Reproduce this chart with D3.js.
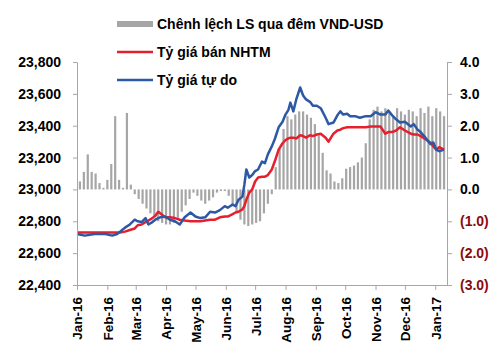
<!DOCTYPE html>
<html lang="vi">
<head>
<meta charset="utf-8">
<title>Tỷ giá VND-USD 2016</title>
<script src="https://cdnjs.cloudflare.com/ajax/libs/d3/7.8.5/d3.min.js"></script>
<style>
  body { margin: 0; background: #fff; }
  svg text { font-family: "Liberation Sans", Arial, sans-serif; font-weight: bold; }
</style>
</head>
<body>
<div id="chart"></div>
<script>
// chênh lệch lãi suất qua đêm VND-USD (trục phải), mỗi 4 ngày
const barDates = [
  "2016-01-04","2016-01-08","2016-01-12","2016-01-16","2016-01-20","2016-01-24","2016-01-28",
  "2016-02-01","2016-02-05","2016-02-09","2016-02-13","2016-02-17","2016-02-21","2016-02-25","2016-02-29",
  "2016-03-04","2016-03-08","2016-03-12","2016-03-16","2016-03-20","2016-03-24","2016-03-28",
  "2016-04-01","2016-04-05","2016-04-09","2016-04-13","2016-04-17","2016-04-21","2016-04-25","2016-04-29",
  "2016-05-03","2016-05-07","2016-05-11","2016-05-15","2016-05-19","2016-05-23","2016-05-27","2016-05-31",
  "2016-06-04","2016-06-08","2016-06-12","2016-06-16","2016-06-20","2016-06-24","2016-06-28",
  "2016-07-02","2016-07-06","2016-07-10","2016-07-14","2016-07-18","2016-07-22","2016-07-26","2016-07-30",
  "2016-08-03","2016-08-07","2016-08-11","2016-08-15","2016-08-19","2016-08-23","2016-08-27","2016-08-31",
  "2016-09-04","2016-09-08","2016-09-12","2016-09-16","2016-09-20","2016-09-24","2016-09-28",
  "2016-10-02","2016-10-06","2016-10-10","2016-10-14","2016-10-18","2016-10-22","2016-10-26","2016-10-30",
  "2016-11-03","2016-11-07","2016-11-11","2016-11-15","2016-11-19","2016-11-23","2016-11-27",
  "2016-12-01","2016-12-05","2016-12-09","2016-12-13","2016-12-17","2016-12-21","2016-12-25","2016-12-29",
  "2017-01-02","2017-01-06","2017-01-10"
];
const spread = [
  0.25,0.55,1.1,0.55,0.5,0.2,0.05,
  0.3,0.8,2.3,0.3,0.05,2.4,0.15,-0.15,
  -0.3,-0.45,-0.6,-0.75,-0.85,-1.0,-1.05,
  -1.1,-1.1,-1.05,-0.9,-0.7,-0.5,-0.3,-0.1,
  -0.2,-0.35,-0.45,-0.35,-0.25,-0.1,-0.05,-0.05,
  -0.2,-0.5,-0.7,-0.95,-1.1,-1.15,-1.1,
  -1.05,-1.0,-0.75,-0.45,-0.15,0.7,1.3,1.9,
  2.3,2.2,2.35,2.45,2.45,2.35,2.25,2.05,
  1.7,1.15,0.6,0.5,0.25,0.2,0.35,
  0.65,0.7,0.75,0.85,1.0,1.45,2.2,2.5,
  2.6,2.45,2.55,2.45,2.3,2.55,2.45,
  2.35,2.5,2.45,2.3,2.55,2.4,2.6,2.3,
  2.55,2.45,2.3
];

// tỷ giá (trục trái)
const rateDates = [
  "2016-01-01","2016-01-09","2016-01-19","2016-01-30","2016-02-06","2016-02-11","2016-02-14","2016-02-19",
  "2016-02-24","2016-02-29","2016-03-03","2016-03-07","2016-03-11","2016-03-14","2016-03-18","2016-03-21",
  "2016-03-24","2016-03-26","2016-03-31","2016-04-05","2016-04-10","2016-04-15","2016-04-20","2016-04-26",
  "2016-05-01","2016-05-06","2016-05-11","2016-05-16","2016-05-21","2016-05-26","2016-05-31","2016-06-03",
  "2016-06-08","2016-06-11","2016-06-14","2016-06-18","2016-06-20","2016-06-22","2016-06-25","2016-06-28",
  "2016-07-01","2016-07-04","2016-07-08","2016-07-11","2016-07-14","2016-07-18","2016-07-21","2016-07-25",
  "2016-07-29","2016-08-01","2016-08-04","2016-08-06","2016-08-09","2016-08-12","2016-08-16","2016-08-19",
  "2016-08-22","2016-08-26","2016-08-29","2016-09-02","2016-09-06","2016-09-11","2016-09-14","2016-09-19",
  "2016-09-23","2016-09-26","2016-09-29","2016-10-03","2016-10-06","2016-10-11","2016-10-16","2016-10-22",
  "2016-10-27","2016-11-01","2016-11-06","2016-11-11","2016-11-14","2016-11-18","2016-11-22","2016-11-26",
  "2016-12-01","2016-12-07","2016-12-10","2016-12-14","2016-12-17","2016-12-22","2016-12-27","2016-12-30",
  "2017-01-02","2017-01-05","2017-01-10"
];
const rateBank = [
  22730,22730,22730,22730,22730,22730,22730,22735,
  22745,22755,22775,22780,22795,22805,22820,22835,
  22860,22850,22825,22825,22820,22810,22805,22800,
  22800,22800,22805,22810,22810,22825,22830,22830,
  22845,22855,22860,22875,22895,22935,22980,23000,
  23050,23075,23080,23080,23090,23125,23175,23250,
  23290,23310,23320,23325,23325,23320,23340,23335,
  23325,23340,23335,23345,23350,23325,23300,23350,
  23370,23375,23385,23390,23390,23390,23390,23390,
  23395,23395,23395,23350,23360,23360,23370,23390,
  23370,23350,23345,23345,23335,23315,23295,23270,
  23250,23265,23250
];
const rateFree = [
  22720,22710,22720,22720,22710,22720,22735,22760,
  22780,22810,22800,22795,22820,22780,22795,22810,
  22820,22825,22830,22810,22800,22780,22825,22855,
  22830,22820,22825,22860,22855,22870,22895,22885,
  22905,22895,22935,22955,23030,23125,23075,23090,
  23115,23125,23175,23165,23220,23270,23315,23390,
  23425,23470,23500,23545,23490,23565,23640,23590,
  23565,23550,23525,23525,23510,23450,23410,23420,
  23465,23490,23470,23475,23460,23460,23450,23460,
  23460,23485,23470,23470,23495,23465,23440,23420,
  23425,23395,23410,23375,23360,23325,23285,23295,
  23250,23240,23250
];

const leftTicks = [22400, 22600, 22800, 23000, 23200, 23400, 23600, 23800];
const rightTicks = [-3, -2, -1, 0, 1, 2, 3, 4];
const monthTicks = ["2016-01-01","2016-02-01","2016-03-01","2016-04-01","2016-05-01","2016-06-01",
  "2016-07-01","2016-08-01","2016-09-01","2016-10-01","2016-11-01","2016-12-01","2017-01-01"];

const legendLabels = ["Chênh lệch LS qua đêm VND-USD", "Tỷ giá bán NHTM", "Tỷ giá tự do"];
const barColor = "#a6a6a6", bankColor = "#e5202e", freeColor = "#2d58a4", axisColor = "#a6a6a6";

const W = 500, H = 361;
const parse = d3.timeParse("%Y-%m-%d");

const svg = d3.select("#chart").append("svg")
  .attr("width", W).attr("height", H);

const x = d3.scaleTime()
  .domain([parse("2016-01-01"), parse("2017-01-13")])
  .range([77, 447]);
const yL = d3.scaleLinear().domain([22400, 23800]).range([285, 62]);
const yR = d3.scaleLinear().domain([-3, 4]).range([285, 62]);

// bars
const bars = barDates.map((d, i) => ({ date: parse(d), v: spread[i] }));
svg.append("g").selectAll("rect")
  .data(bars).enter().append("rect")
  .attr("x", d => x(d.date) - 1.1)
  .attr("width", 2.2)
  .attr("y", d => yR(Math.max(0, d.v)))
  .attr("height", d => Math.abs(yR(d.v) - yR(0)))
  .attr("fill", barColor);

// lines
const line = d3.line().x(d => x(d.date)).y(d => yL(d.v));
const bank = rateDates.map((d, i) => ({ date: parse(d), v: rateBank[i] }));
const free = rateDates.map((d, i) => ({ date: parse(d), v: rateFree[i] }));

svg.append("path").datum(bank)
  .attr("d", line).attr("fill", "none")
  .attr("stroke", bankColor).attr("stroke-width", 2.5)
  .attr("stroke-linejoin", "round");
svg.append("path").datum(free)
  .attr("d", line).attr("fill", "none")
  .attr("stroke", freeColor).attr("stroke-width", 2.5)
  .attr("stroke-linejoin", "round");

// axes
function styleAxis(g) {
  g.attr("font-family", null).attr("font-size", null);
  g.select(".domain").attr("stroke", axisColor);
  g.selectAll(".tick line").attr("stroke", axisColor);
  g.selectAll(".tick text").attr("fill", "#000").style("font-size", "14px");
}

svg.append("g")
  .attr("transform", "translate(77,0)")
  .call(d3.axisLeft(yL).tickValues(leftTicks).tickSize(4).tickSizeOuter(0)
    .tickPadding(12).tickFormat(d3.format(",")))
  .call(styleAxis);

svg.append("g")
  .attr("transform", "translate(447,0)")
  .call(d3.axisRight(yR).tickValues(rightTicks).tickSize(5).tickSizeOuter(0)
    .tickPadding(8).tickFormat(d => d < 0 ? "(" + Math.abs(d).toFixed(1) + ")" : d.toFixed(1)))
  .call(styleAxis)
  .selectAll(".tick text")
  .attr("fill", d => d < 0 ? "#8b0a0a" : "#000");

svg.append("g")
  .attr("transform", "translate(0,285)")
  .call(d3.axisBottom(x).tickValues(monthTicks.map(parse)).tickSize(5).tickSizeOuter(0)
    .tickFormat(d3.timeFormat("%b-%y")))
  .call(styleAxis)
  .selectAll(".tick text")
  .attr("transform", "rotate(-90)")
  .attr("text-anchor", "end")
  .attr("x", -12)
  .attr("y", 0)
  .attr("dy", "0.36em")
  .style("font-size", "13.5px");

// legend
const legend = svg.append("g");
legend.append("rect")
  .attr("x", 117).attr("y", 21).attr("width", 36).attr("height", 6)
  .attr("fill", barColor);
legend.append("line")
  .attr("x1", 117).attr("x2", 153).attr("y1", 52).attr("y2", 52)
  .attr("stroke", bankColor).attr("stroke-width", 2.5);
legend.append("line")
  .attr("x1", 117).attr("x2", 153).attr("y1", 80).attr("y2", 80)
  .attr("stroke", freeColor).attr("stroke-width", 2.5);
legend.selectAll("text")
  .data(legendLabels).enter().append("text")
  .attr("x", 157)
  .attr("y", (d, i) => [29, 57, 85][i])
  .style("font-size", "14px")
  .text(d => d);
</script>
</body>
</html>
